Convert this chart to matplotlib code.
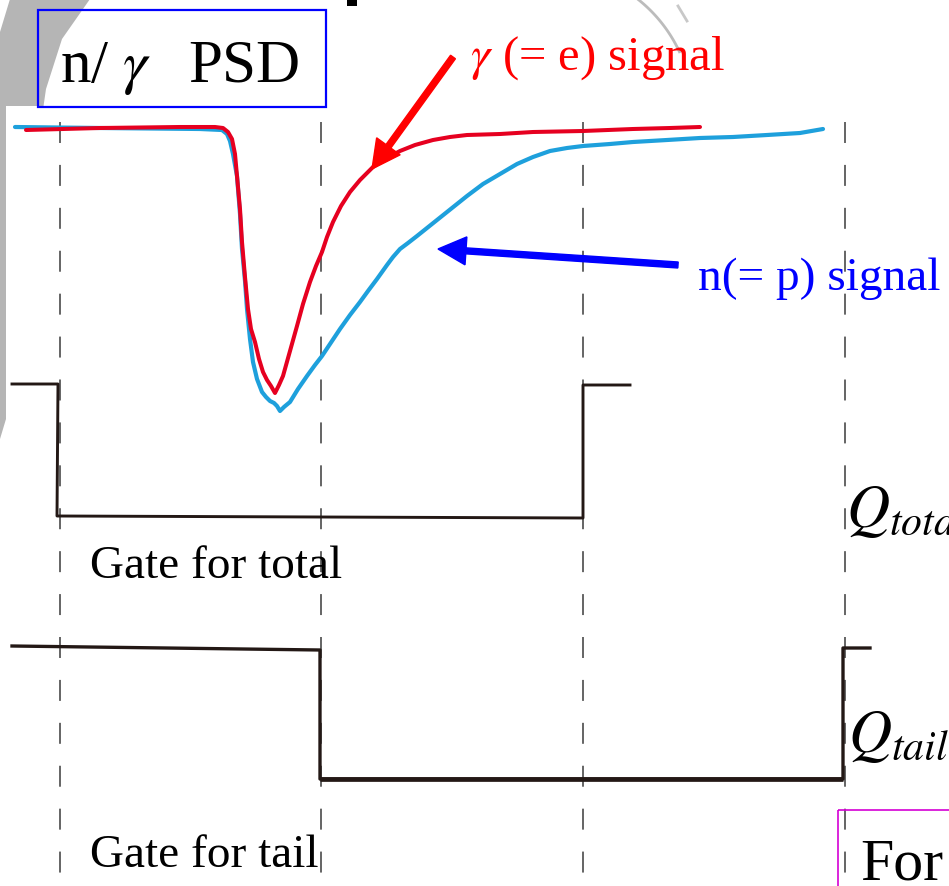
import matplotlib
matplotlib.use("Agg")
import numpy as np
import matplotlib.pyplot as plt
from matplotlib.patches import Rectangle, Polygon

plt.rcParams["font.family"] = ["Liberation Serif", "DejaVu Serif"]
plt.rcParams["mathtext.fontset"] = "stix"
plt.rcParams["lines.scale_dashes"] = False

# --- pulse shapes (pixel space, y grows downward) ---
gamma_x = [26, 100, 180, 215, 223, 228, 232, 235, 237, 240, 242, 245, 248, 251, 255,
           259, 263, 267, 271, 275, 279, 283, 290, 297, 303, 310, 316, 322, 327, 333,
           341, 350, 360, 373, 385, 400, 415, 433, 450, 467, 500, 533, 583, 633, 670, 700]
gamma_y = [131, 129, 128, 128, 129, 133, 140, 155, 177, 210, 243, 278, 310, 330, 343,
           360, 373, 381, 387, 394, 386, 377, 352, 327, 305, 283, 267, 253, 238, 223,
           207, 193, 181, 168, 160, 152, 146, 141, 138, 136, 135, 133, 132, 130, 129, 128]

neutron_x = [15, 100, 200, 222, 227, 230, 233, 237, 240, 242, 245, 247, 250, 253, 257,
             262, 266, 270, 274, 277, 280, 284, 290, 298, 307, 315, 322, 330, 340, 350,
             360, 368, 377, 387, 393, 400, 408, 417, 432, 447, 457, 467, 483, 500, 517,
             533, 550, 567, 583, 610, 633, 667, 700, 733, 767, 800, 823]
neutron_y = [128, 129, 130, 131, 135, 142, 155, 177, 215, 250, 282, 310, 340, 363, 380,
             393, 398, 402, 404, 407, 412, 408, 403, 390, 377, 366, 357, 345, 330, 316,
             303, 292, 280, 266, 258, 250, 244, 237, 225, 213, 205, 197, 185, 175, 165,
             158, 152, 149, 147, 145, 143, 141, 139, 138, 136, 134, 130]

# --- integration gates ---
total_gate_x = [12, 58, 57, 583, 583, 630]
total_gate_y = [385, 385, 517, 519, 386, 386]
tail_gate_x = [12, 320, 320, 843, 843, 870]
tail_gate_y = [647, 651, 780, 780, 649, 649]

marker_x = [60, 321, 583, 845]
marker_top = 123

# --- labels ---
title_left = r"n/ $\gamma$"
title_right = "PSD"
gamma_label = r"$\gamma$ (= e) signal"
neutron_label = "n(= p) signal"
total_label = "Gate for total"
tail_label = "Gate for tail"
q_total = r"$Q_{total}$"
q_tail = r"$Q_{tail}$"
footer_text = "For"

W, H = 949, 887
fig = plt.figure(figsize=(W / 100, H / 100), dpi=100)
ax = fig.add_axes([0, 0, 1, 1])
ax.set_xlim(0, W)
ax.set_ylim(H, 0)
ax.axis("off")

# faint watermark ring behind the slide
ax.add_patch(Polygon([(10, 0), (90, 0), (62, 40), (46, 90), (30, 200), (15, 330),
                      (6, 420), (0, 440), (0, 33)], closed=True,
                     facecolor="#b5b5b5", edgecolor="none", zorder=0))
ax.add_patch(Rectangle((6, 107), W, H, facecolor="white", edgecolor="none", zorder=0.5))
t = np.radians(np.linspace(-54, -25, 30))
ax.plot(548 + 145 * np.cos(t), 114 + 145 * np.sin(t), color="#bcbcbc", lw=2.0, zorder=0.6)
ax.plot([678, 687], [7, 22], color="#c8c8c8", lw=2, zorder=0.6)
ax.add_patch(Rectangle((347, 0), 10, 7, facecolor="black", edgecolor="none", zorder=1))

# timing markers
for x in marker_x:
    ax.plot([x, x], [marker_top, H], color="#3a3a3a", lw=1.1,
            dashes=(15.1, 15.8), zorder=1)

ax.plot(neutron_x, neutron_y, color="#1ea0dc", lw=3.0, solid_joinstyle="round",
        solid_capstyle="round", zorder=3)
ax.plot(gamma_x, gamma_y, color="#e60020", lw=2.9, solid_joinstyle="round",
        solid_capstyle="round", zorder=4)

ax.plot(total_gate_x, total_gate_y, color="#231815", lw=2.1, zorder=2)
ax.plot(tail_gate_x, tail_gate_y, color="#231815", lw=2.4, zorder=2)
ax.plot(tail_gate_x[2:4], tail_gate_y[2:4], color="#231815", lw=3.4,
        solid_capstyle="butt", zorder=2)

# arrows pointing at each pulse
ax.arrow(453, 58, 372 - 453, 170 - 58, width=6, head_width=29, head_length=28,
         length_includes_head=True, color="#ff0000", zorder=5)
ax.arrow(678, 266, 438 - 678, 250 - 266, width=6, head_width=28, head_length=28,
         length_includes_head=True, color="#0000ff", zorder=5)

ax.add_patch(Rectangle((38, 11), 288, 97, fill=False, edgecolor="#0000ff", lw=1.6, zorder=5))
ax.text(60, 82, title_left, fontsize=44, color="black", va="baseline", ha="left", zorder=6)
ax.text(188, 82, title_right, fontsize=44, color="black", va="baseline", ha="left", zorder=6)

ax.text(470, 70, gamma_label, fontsize=35, color="#ff0000", va="baseline", ha="left", zorder=6)
ax.text(698, 290, neutron_label, fontsize=34, color="#0000ff", va="baseline", ha="left", zorder=6)

ax.text(90, 578, total_label, fontsize=34, color="black", va="baseline", ha="left", zorder=6)
ax.text(90, 867, tail_label, fontsize=34, color="black", va="baseline", ha="left", zorder=6)

ax.text(846, 527, q_total, fontsize=43, color="black", va="baseline", ha="left", zorder=6)
ax.text(848, 752, q_tail, fontsize=43, color="black", va="baseline", ha="left", zorder=6)

ax.add_patch(Rectangle((838, 811), 200, 200, fill=False, edgecolor="#d400d4", lw=1.2, zorder=5))
ax.text(860, 880, footer_text, fontsize=43, color="black", va="baseline", ha="left", zorder=6)

fig.savefig("out.png", dpi=100, facecolor="white")
